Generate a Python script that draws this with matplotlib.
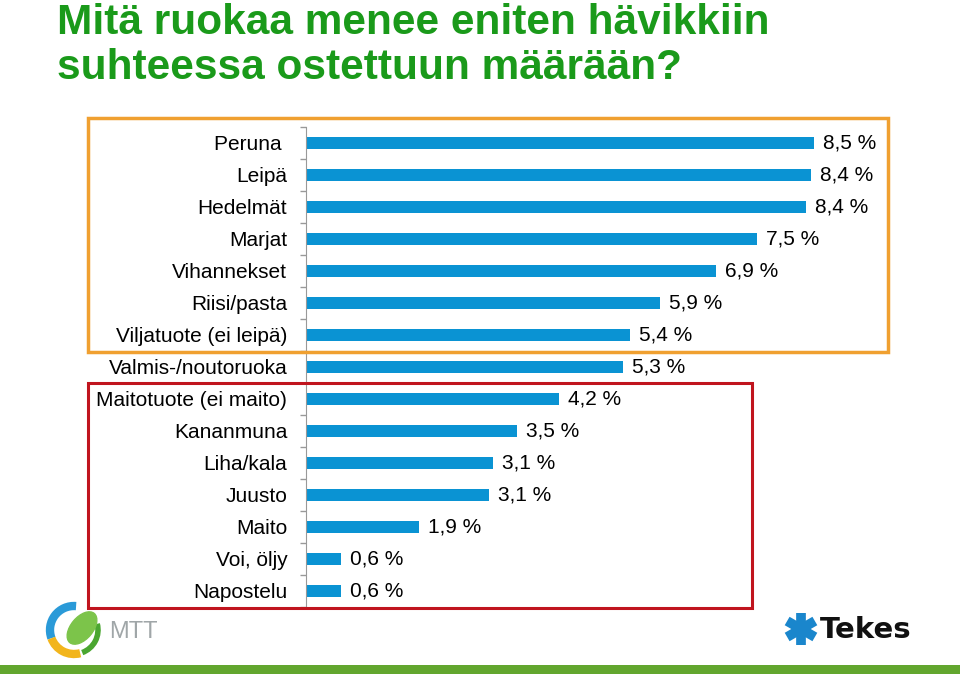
import numpy as np
import matplotlib
matplotlib.use('Agg')
from matplotlib import pyplot as plt
from matplotlib.patches import Rectangle, Arc, Ellipse

# Tiedot (luettu kuvasta)
kategoriat = ['Peruna ', 'Leipä', 'Hedelmät', 'Marjat', 'Vihannekset', 'Riisi/pasta',
              'Viljatuote (ei leipä)', 'Valmis-/noutoruoka', 'Maitotuote (ei maito)',
              'Kananmuna', 'Liha/kala', 'Juusto', 'Maito', 'Voi, öljy', 'Napostelu']
osuudet = [8.50, 8.44, 8.36, 7.54, 6.86, 5.92, 5.42, 5.30, 4.23, 3.53, 3.13, 3.06, 1.89, 0.59, 0.59]
otsikko = ['Mitä ruokaa menee eniten hävikkiin', 'suhteessa ostettuun määrään?']

W, H = 960, 674
sininen = '#0a93d3'

plt.rcParams['font.family'] = ['Liberation Sans', 'DejaVu Sans']

fig = plt.figure(figsize=(W / 100, H / 100), dpi=100)

def px(x, y):
    # pikseleistä kuvan koordinaatteihin
    return x / W, 1 - y / H

# Pylväskuvio
ax = fig.add_axes([306 / W, 1 - 607 / H, 634 / W, 480 / H])
y = np.arange(len(kategoriat))
ax.barh(y, osuudet, height=0.4, color=sininen)
for yi, v in zip(y, osuudet):
    ax.annotate(('%.1f %%' % v).replace('.', ','), (v, yi), xytext=(6.5, 0),
                textcoords='offset points', va='center', ha='left', fontsize=15)
ax.set_xlim(0, 10.6)
ax.set_ylim(len(kategoriat) - 0.5, -0.5)
ax.set_yticks(y)
ax.set_yticklabels(kategoriat, fontsize=15)
ax.set_yticks(np.arange(len(kategoriat) + 1) - 0.5, minor=True)
ax.tick_params(axis='y', which='major', length=0, pad=13.5)
ax.tick_params(axis='y', which='minor', length=4, color='#999999', width=1)
ax.set_xticks([])
for s in ['top', 'right', 'bottom']:
    ax.spines[s].set_visible(False)
ax.spines['left'].set_color('#999999')
ax.patch.set_alpha(0)

# Korostuslaatikot
x0, y0 = px(88, 352)
x1, y1 = px(888, 118)
fig.patches.append(Rectangle((x0, y0), x1 - x0, y1 - y0, transform=fig.transFigure,
                             fill=False, ec='#f0a030', lw=2.5))
x0, y0 = px(88, 608)
x1, y1 = px(752, 383)
fig.patches.append(Rectangle((x0, y0), x1 - x0, y1 - y0, transform=fig.transFigure,
                             fill=False, ec='#c0141e', lw=2.2))

# Otsikko
for i, rivi in enumerate(otsikko):
    fig.text(*px(57, 34 + 45 * i), rivi, fontsize=30.5, fontweight='bold', color='#1a9a1a',
             va='baseline', ha='left')

# Vihreä alapalkki
x0, y0 = px(0, 674)
fig.patches.append(Rectangle((x0, y0), 1, 9 / H, transform=fig.transFigure,
                             color='#62a62e', lw=0))

# MTT-logo (karkea), y-akseli käännetty -> kulmat peilattu
lax = fig.add_axes([0, 0, 1, 1], zorder=-1)
lax.set_xlim(0, W)
lax.set_ylim(H, 0)
lax.axis('off')
lax.add_patch(Arc((74, 630), 48, 48, theta1=160, theta2=275, color='#2a9ad8', lw=6))
lax.add_patch(Arc((74, 630), 48, 48, theta1=75, theta2=160, color='#f2b51c', lw=6))
lax.add_patch(Arc((74, 630), 48, 48, theta1=345, theta2=70, color='#4aa630', lw=4))
lax.add_patch(Ellipse((82, 628), 22, 38, angle=40, color='#7cc44a'))
lax.text(109, 638, 'MTT', fontsize=17, color='#a0a6a8', va='baseline', ha='left')

# Tekes-logo (karkea)
for a in [90, 30, -30]:
    t = np.deg2rad(a)
    lax.plot([801 - 16 * np.cos(t), 801 + 16 * np.cos(t)],
             [629 - 16 * np.sin(t), 629 + 16 * np.sin(t)], color='#1a86cc', lw=7,
             solid_capstyle='butt')
lax.text(820, 638, 'Tekes', fontsize=21, fontweight='bold', family='DejaVu Sans',
         color='#111111', va='baseline', ha='left')

fig.savefig('out.png', dpi=100)
